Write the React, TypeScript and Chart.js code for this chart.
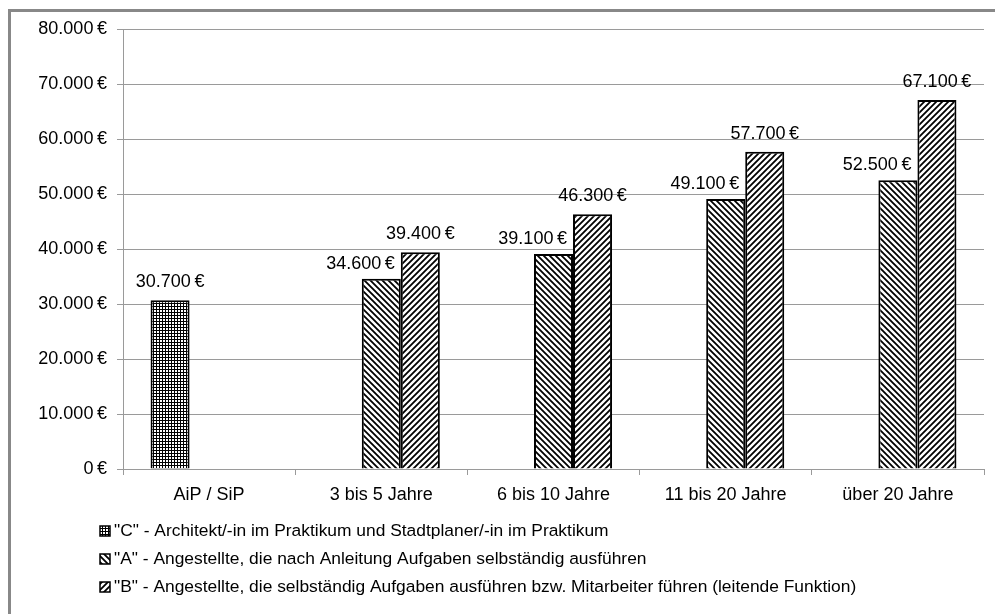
import React, { useEffect, useRef } from "react";
import { Chart, registerables } from "chart.js";

Chart.register(...registerables);

const categories = ["AiP / SiP", "3 bis 5 Jahre", "6 bis 10 Jahre", "11 bis 20 Jahre", "über 20 Jahre"];
const seriesC = [30700, null, null, null, null];
const seriesA = [null, 34600, 39100, 49100, 52500];
const seriesB = [null, 39400, 46300, 57700, 67100];
const seriesLabels = [
  '"C" - Architekt/-in im Praktikum und Stadtplaner/-in im Praktikum',
  '"A" - Angestellte, die nach Anleitung Aufgaben selbständig ausführen',
  '"B" - Angestellte, die selbständig Aufgaben ausführen bzw. Mitarbeiter führen (leitende Funktion)',
];
const yMin = 0;
const yMax = 80000;
const yStep = 10000;

const FONT = "'Liberation Sans', Arial, sans-serif";
const FS = 18;
const LEGEND_FS = 17.4;

function fmt(v: number): string {
  const s = String(Math.round(v)).replace(/\B(?=(\d{3})+(?!\d))/g, ".");
  return s + "\u2009€";
}

function makePattern(kind: "grid" | "back" | "fwd"): CanvasPattern | string {
  const c = document.createElement("canvas");
  const ctx = c.getContext("2d");
  if (!ctx) return "#888";
  if (kind === "grid") {
    c.width = 3;
    c.height = 3;
    ctx.fillStyle = "#fff";
    ctx.fillRect(0, 0, 3, 3);
    ctx.fillStyle = "#000";
    ctx.fillRect(0, 0, 3, 1);
    ctx.fillRect(0, 0, 1, 3);
  } else {
    const s = 6;
    c.width = s;
    c.height = s;
    ctx.fillStyle = "#fff";
    ctx.fillRect(0, 0, s, s);
    ctx.strokeStyle = "#000";
    ctx.lineWidth = 1.8;
    ctx.beginPath();
    if (kind === "back") {
      ctx.moveTo(-1, -1); ctx.lineTo(s + 1, s + 1);
      ctx.moveTo(-1, s - 1); ctx.lineTo(1, s + 1);
      ctx.moveTo(s - 1, -1); ctx.lineTo(s + 1, 1);
    } else {
      ctx.moveTo(-1, s + 1); ctx.lineTo(s + 1, -1);
      ctx.moveTo(-1, 1); ctx.lineTo(1, -1);
      ctx.moveTo(s - 1, s + 1); ctx.lineTo(s + 1, s - 1);
    }
    ctx.stroke();
  }
  return ctx.createPattern(c, "repeat") || "#888";
}

export default function App() {
  const ref = useRef<HTMLCanvasElement | null>(null);

  useEffect(() => {
    if (!ref.current) return;
    const patC = makePattern("grid");
    const patA = makePattern("back");
    const patB = makePattern("fwd");
    const pats = [patC, patA, patB];

    const labelPlugin = {
      id: "valueLabels",
      afterDatasetsDraw(chart: any) {
        const ctx = chart.ctx;
        ctx.save();
        ctx.font = `${FS}px ${FONT}`;
        ctx.fillStyle = "#000";
        ctx.textBaseline = "middle";
        chart.data.datasets.forEach((ds: any, i: number) => {
          const meta = chart.getDatasetMeta(i);
          meta.data.forEach((el: any, j: number) => {
            const v = ds.data[j];
            if (v == null) return;
            const w = el.width;
            if (i === 1) {
              ctx.textAlign = "right";
              ctx.fillText(fmt(v), el.x + w / 2 - 6, el.y - 15);
            } else {
              ctx.textAlign = "center";
              ctx.fillText(fmt(v), el.x, el.y - 18);
            }
          });
        });
        ctx.restore();
      },
    };

    const legendPlugin = {
      id: "bottomLegend",
      afterDraw(chart: any) {
        const ctx = chart.ctx;
        ctx.save();
        ctx.font = `${LEGEND_FS}px ${FONT}`;
        ctx.textBaseline = "middle";
        ctx.textAlign = "left";
        const rows = [531, 559, 587];
        chart.data.datasets.forEach((ds: any, i: number) => {
          const y = rows[i];
          ctx.fillStyle = pats[i];
          ctx.fillRect(100, y - 5, 10, 10);
          ctx.strokeStyle = "#000";
          ctx.lineWidth = 1.5;
          ctx.strokeRect(100, y - 5, 10, 10);
          ctx.fillStyle = "#000";
          ctx.fillText(ds.label, 114, y);
        });
        ctx.restore();
      },
    };

    const chart = new Chart(ref.current, {
      type: "bar",
      data: {
        labels: categories,
        datasets: [
          { label: seriesLabels[0], data: seriesC, backgroundColor: patC as any, borderColor: "#000", borderWidth: 2 },
          { label: seriesLabels[1], data: seriesA, backgroundColor: patA as any, borderColor: "#000", borderWidth: 2 },
          { label: seriesLabels[2], data: seriesB, backgroundColor: patB as any, borderColor: "#000", borderWidth: 2 },
        ],
      },
      options: {
        animation: false,
        responsive: false,
        maintainAspectRatio: false,
        devicePixelRatio: 1,
        layout: { padding: { left: 0, top: 29, right: 11, bottom: 0 } },
        datasets: { bar: { categoryPercentage: 0.68, barPercentage: 1 } },
        plugins: {
          legend: { display: false },
          tooltip: { enabled: false },
          title: { display: false },
        },
        scales: {
          x: {
            afterFit(scale: any) { scale.height = 145; },
            grid: { display: true, drawOnChartArea: false, drawTicks: true, tickLength: 6, color: "#9a9a9a", offset: true },
            border: { display: true, color: "#9a9a9a" },
            ticks: { color: "#000", font: { family: FONT, size: FS }, padding: 9, maxRotation: 0, autoSkip: false },
          },
          y: {
            min: yMin,
            max: yMax,
            afterFit(scale: any) { scale.width = 123; },
            grid: { color: "#9a9a9a", tickLength: 6, drawTicks: true },
            border: { display: true, color: "#9a9a9a" },
            ticks: {
              stepSize: yStep,
              color: "#000",
              font: { family: FONT, size: FS },
              padding: 10,
              callback: (v: any) => fmt(Number(v)),
            },
          },
        },
      },
      plugins: [labelPlugin, legendPlugin],
    });
    return () => chart.destroy();
  }, []);

  return (
    <div style={{ position: "fixed", left: 0, top: 0, width: 995, height: 614, overflow: "hidden", background: "#fff" }}>
      <div
        style={{
          position: "absolute",
          left: 8,
          top: 9,
          width: 1100,
          height: 800,
          borderLeft: "3px solid #888",
          borderTop: "3px solid #888",
          boxSizing: "border-box",
        }}
      />
      <canvas ref={ref} width={995} height={614} style={{ position: "absolute", left: 0, top: 0, width: 995, height: 614 }} />
    </div>
  );
}
